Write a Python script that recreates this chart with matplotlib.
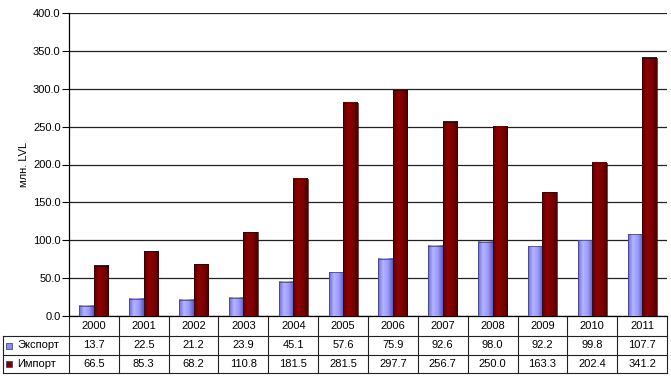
import matplotlib.pyplot as plt
import matplotlib.transforms as mtransforms
import numpy as np
from matplotlib.patches import Rectangle
from matplotlib.colors import LinearSegmentedColormap

plt.rcParams['font.family'] = ['Liberation Sans', 'DejaVu Sans']

years = ['2000', '2001', '2002', '2003', '2004', '2005',
         '2006', '2007', '2008', '2009', '2010', '2011']
export = [13.7, 22.5, 21.2, 23.9, 45.1, 57.6, 75.9, 92.6, 98.0, 92.2, 99.8, 107.7]
imports = [66.5, 85.3, 68.2, 110.8, 181.5, 281.5, 297.7, 256.7, 250.0, 163.3, 202.4, 341.2]
series_names = ['Экспорт', 'Импорт']

exp_cmap = LinearSegmentedColormap.from_list('e', ['#6a6ad8', '#b4b4ff', '#9a9aff', '#5c5cc0'])
imp_cmap = LinearSegmentedColormap.from_list('i', ['#5a0000', '#900000', '#7a0000', '#4a0000'])

W, H = 671, 376
fig = plt.figure(figsize=(W / 100, H / 100), dpi=100)
ax = fig.add_axes([69 / W, 60 / H, 598 / W, 303 / H])

n = len(years)
x = np.arange(n)
bw = 0.29
grad = np.linspace(0, 1, 64).reshape(1, -1)


def gbar(xc, val, cmap, edge):
    ax.bar(xc, val, bw, color='none', edgecolor=edge, linewidth=0.5, zorder=4)
    ax.imshow(grad, cmap=cmap, aspect='auto', extent=[xc - bw / 2, xc + bw / 2, 0, val],
              zorder=3, interpolation='bilinear')


for i in range(n):
    gbar(x[i] - 0.145, export[i], exp_cmap, '#3a3a80')
    gbar(x[i] + 0.145, imports[i], imp_cmap, '#300000')

ax.set_xlim(-0.5, n - 0.5)
ax.set_ylim(0, 400)
ax.set_yticks(np.arange(0, 401, 50))
ax.set_yticklabels(['%.1f' % v for v in np.arange(0, 401, 50)], fontsize=8)
ax.yaxis.grid(True, color='#222222', linewidth=0.9)
ax.set_axisbelow(True)
ax.set_xticks([])
for s in ['top', 'right']:
    ax.spines[s].set_visible(False)
ax.spines['left'].set_linewidth(0.9)
ax.spines['bottom'].set_linewidth(0.9)
ax.tick_params(axis='y', length=5, width=0.8, pad=1)
ax.set_ylabel('млн. LVL', fontsize=8, labelpad=3)

# data table drawn under the plot: x in data units, y in axes fraction
tr = mtransforms.blended_transform_factory(ax.transData, ax.transAxes)
px = 1 / 303
cat_px = 598 / n
xl = -0.5 - 66 / cat_px          # left edge of the label column
rows = [0, -20 * px, -39 * px, -57 * px]
lk = dict(color='#222222', lw=0.8, transform=tr, clip_on=False)

ax.plot([-0.5, n - 0.5], [rows[1], rows[1]], **lk)
ax.plot([xl, -0.5], [rows[1], rows[1]], **lk)
for y in rows[2:]:
    ax.plot([xl, n - 0.5], [y, y], **lk)
for b in np.arange(n + 1) - 0.5:
    ax.plot([b, b], [rows[0], rows[3]], **lk)
ax.plot([xl, xl], [rows[1], rows[3]], **lk)

fs = 8
for i in range(n):
    ax.text(x[i], (rows[0] + rows[1]) / 2, years[i], ha='center', va='center',
            fontsize=fs, transform=tr)
    ax.text(x[i], (rows[1] + rows[2]) / 2, '%.1f' % export[i], ha='center', va='center',
            fontsize=fs, transform=tr)
    ax.text(x[i], (rows[2] + rows[3]) / 2, '%.1f' % imports[i], ha='center', va='center',
            fontsize=fs, transform=tr)

# legend keys inside the label column
for k, col in enumerate(['#8c8cf0', '#800000']):
    yc = (rows[k + 1] + rows[k + 2]) / 2
    ax.add_patch(Rectangle((xl + 3 / cat_px, yc - 3 * px), 6 / cat_px, 6 * px, transform=tr,
                           facecolor=col, edgecolor='#333366', linewidth=0.5, clip_on=False))
    ax.text(xl + 14 / cat_px, yc, series_names[k], ha='left', va='center',
            fontsize=fs, transform=tr)

fig.savefig('out.png', dpi=100)
